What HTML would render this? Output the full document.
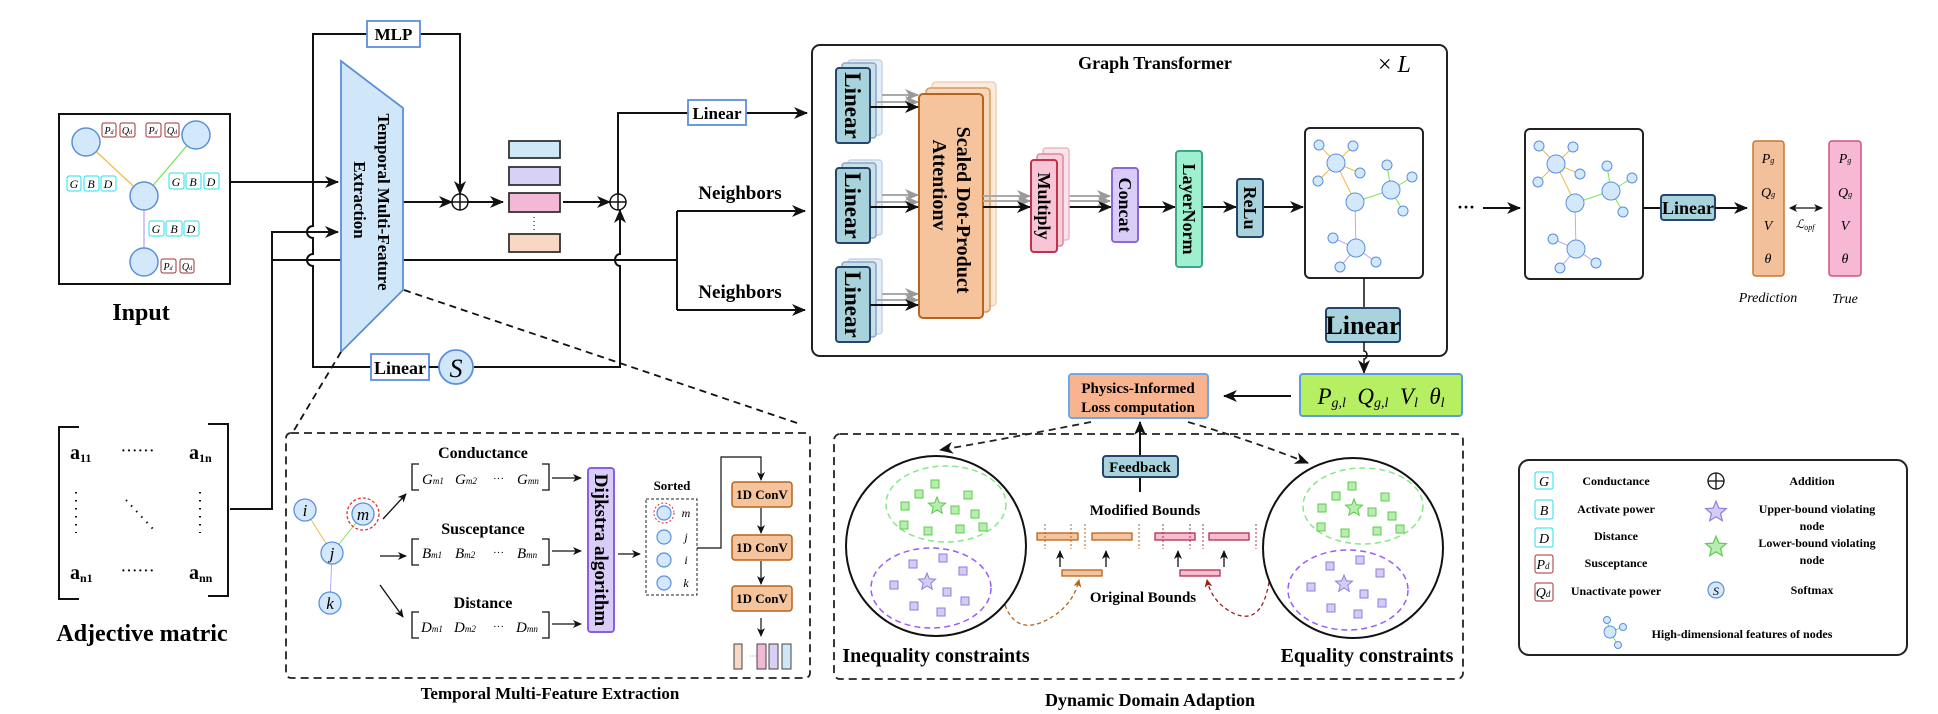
<!DOCTYPE html>
<html><head><meta charset="utf-8"><style>
html,body{margin:0;padding:0;background:#fff}
svg{display:block}
text{font-family:"Liberation Serif",serif}
.b{font-weight:bold}
.i{font-style:italic}
</style></head><body>
<svg width="1938" height="714" viewBox="0 0 1938 714" xmlns="http://www.w3.org/2000/svg">
<defs>
<marker id="a" markerUnits="userSpaceOnUse" markerWidth="14" markerHeight="12" refX="13" refY="6" orient="auto"><path d="M0,0 L14,6 L0,12 L4,6z" fill="#111"/></marker>
<marker id="s" markerUnits="userSpaceOnUse" markerWidth="9" markerHeight="8" refX="8" refY="4" orient="auto"><path d="M0,0 L9,4 L0,8 L2.5,4z" fill="#111"/></marker>
<marker id="g" markerUnits="userSpaceOnUse" markerWidth="14" markerHeight="12" refX="13" refY="6" orient="auto"><path d="M0,0 L14,6 L0,12 L4,6z" fill="#999"/></marker>
<marker id="sb" markerUnits="userSpaceOnUse" markerWidth="8" markerHeight="8" refX="7" refY="4" orient="auto"><path d="M0,0 L8,4 L0,8 L2,4z" fill="#b5651d"/></marker>
<marker id="sr" markerUnits="userSpaceOnUse" markerWidth="8" markerHeight="8" refX="7" refY="4" orient="auto"><path d="M0,0 L8,4 L0,8 L2,4z" fill="#a02020"/></marker>
<marker id="d2" markerUnits="userSpaceOnUse" markerWidth="8" markerHeight="8" refX="1" refY="4" orient="auto"><path d="M8,0 L0,4 L8,8 L6,4z" fill="#111"/></marker>
<polygon id="star" points="0,-9 2.35,-3.24 8.56,-2.78 3.8,1.24 5.29,7.28 0,4 -5.29,7.28 -3.8,1.24 -8.56,-2.78 -2.35,-3.24"/>
<rect id="gsq" x="-4" y="-4" width="8" height="8" fill="#b9ecb0" stroke="#5ccc4c" stroke-width="1"/>
<rect id="psq" x="-4" y="-4" width="8" height="8" fill="#d4ccf5" stroke="#8f7de0" stroke-width="1"/>
</defs>

<!-- ============ INPUT ============ -->
<rect x="59" y="114" width="171" height="170" fill="#fff" stroke="#111" stroke-width="2"/>
<g stroke-width="1.3">
<line x1="86" y1="142" x2="144" y2="196" stroke="#f5b942"/>
<line x1="196" y1="135" x2="144" y2="196" stroke="#7ae35a"/>
<line x1="144" y1="196" x2="144" y2="262" stroke="#b9a8f0"/>
</g>
<g fill="#d3e9fb" stroke="#5b8fdc" stroke-width="1.5">
<circle cx="86" cy="142" r="14"/><circle cx="196" cy="135" r="14"/><circle cx="144" cy="196" r="14"/><circle cx="144" cy="262" r="14"/>
</g>
<g fill="#fff" stroke="#a03030" stroke-width="1">
<rect x="102" y="123" width="14" height="14" rx="2"/><rect x="120" y="123" width="15" height="14" rx="2"/>
<rect x="146" y="123" width="15" height="14" rx="2"/><rect x="165" y="123" width="14" height="14" rx="2"/>
<rect x="161" y="259" width="15" height="14" rx="2"/><rect x="180" y="259" width="14" height="14" rx="2"/>
</g>
<g font-size="10" class="i" text-anchor="middle">
<text x="109" y="134">P<tspan font-size="6">d</tspan></text><text x="127" y="134">Q<tspan font-size="6">d</tspan></text>
<text x="153" y="134">P<tspan font-size="6">d</tspan></text><text x="172" y="134">Q<tspan font-size="6">d</tspan></text>
<text x="168" y="270">P<tspan font-size="6">d</tspan></text><text x="187" y="270">Q<tspan font-size="6">d</tspan></text>
</g>
<g fill="#fff" stroke="#22e0ee" stroke-width="1">
<rect x="67" y="176" width="14" height="15" rx="2"/><rect x="84" y="176" width="15" height="15" rx="2"/><rect x="101" y="176" width="15" height="15" rx="2"/>
<rect x="169" y="173" width="15" height="16" rx="2"/><rect x="186" y="173" width="15" height="16" rx="2"/><rect x="204" y="173" width="15" height="16" rx="2"/>
<rect x="149" y="221" width="15" height="15" rx="2"/><rect x="166" y="221" width="16" height="15" rx="2"/><rect x="184" y="221" width="15" height="15" rx="2"/>
</g>
<g font-size="12" class="i" text-anchor="middle">
<text x="74" y="188">G</text><text x="91" y="188">B</text><text x="108" y="188">D</text>
<text x="176" y="186">G</text><text x="193" y="186">B</text><text x="211" y="186">D</text>
<text x="156" y="233">G</text><text x="174" y="233">B</text><text x="191" y="233">D</text>
</g>
<text x="141" y="320" font-size="24" class="b" text-anchor="middle">Input</text>

<!-- ============ MATRIX ============ -->
<path d="M79,427 H59 V599 H79" fill="none" stroke="#111" stroke-width="2"/>
<path d="M208,424 H228 V596 H208" fill="none" stroke="#111" stroke-width="2"/>
<g class="b" font-size="20">
<text x="70" y="459">a<tspan font-size="12" dy="3">11</tspan></text>
<text x="189" y="459">a<tspan font-size="12" dy="3">1n</tspan></text>
<text x="70" y="579">a<tspan font-size="12" dy="3">n1</tspan></text>
<text x="189" y="579">a<tspan font-size="12" dy="3">nn</tspan></text>
</g>
<g fill="#111">
<text x="121" y="455" font-size="14" class="b" letter-spacing="1">······</text>
<text x="121" y="575" font-size="14" class="b" letter-spacing="1">······</text>
</g>
<line x1="76" y1="492" x2="76" y2="533" stroke="#111" stroke-width="2" stroke-dasharray="1.5,6.5"/>
<line x1="200" y1="492" x2="200" y2="533" stroke="#111" stroke-width="2" stroke-dasharray="1.5,6.5"/>
<line x1="126" y1="500" x2="154" y2="530" stroke="#111" stroke-width="2" stroke-dasharray="1.5,6"/>
<text x="142" y="641" font-size="24" class="b" text-anchor="middle">Adjective matric</text>

<!-- ============ WIRES LEFT ============ -->
<g fill="none" stroke="#111" stroke-width="2">
<line x1="230" y1="182" x2="338" y2="182" marker-end="url(#a)"/>
<path d="M230,509 H272 V232 H338" marker-end="url(#a)"/>
<path d="M272,260 H677"/>
<path d="M677,211 V310"/>
<path d="M677,211 H805" marker-end="url(#a)"/>
<path d="M677,310 H805" marker-end="url(#a)"/>
<!-- left loop with hops -->
<path d="M367,34 H313 V226 a6,6 0 0 0 0,12 V254 a6,6 0 0 0 0,12 V367 H371"/>
<path d="M420,34 H460 V194" marker-end="url(#a)"/>
<path d="M474,367 H620 V266 a5,6 0 0 1 0,-12 V210" marker-end="url(#a)"/>
<line x1="403" y1="202" x2="452" y2="202" marker-end="url(#a)"/>
<line x1="468" y1="202" x2="503" y2="202" marker-end="url(#a)"/>
<line x1="563" y1="202" x2="610" y2="202" marker-end="url(#a)"/>
<path d="M618,194 V113 H688"/>
<line x1="746" y1="113" x2="807" y2="113" marker-end="url(#a)"/>
</g>
<!-- MLP -->
<rect x="367" y="21" width="53" height="26" fill="#fff" stroke="#5b8fdc" stroke-width="1.8"/>
<text x="393.5" y="40" font-size="17" class="b" text-anchor="middle">MLP</text>
<!-- trapezoid -->
<polygon points="341,61 403,108 403,290 341,352" fill="#d0e7fa" stroke="#5b8fdc" stroke-width="1.8"/>
<text transform="translate(378,202) rotate(90)" font-size="17" class="b" text-anchor="middle">Temporal Multi-Feature</text>
<text transform="translate(354,200) rotate(90)" font-size="17" class="b" text-anchor="middle">Extraction</text>
<!-- plus circles -->
<g fill="#fff" stroke="#111" stroke-width="1.5">
<circle cx="460" cy="202" r="8"/><line x1="452" y1="202" x2="468" y2="202"/><line x1="460" y1="194" x2="460" y2="210"/>
<circle cx="618" cy="202" r="8"/><line x1="610" y1="202" x2="626" y2="202"/><line x1="618" y1="194" x2="618" y2="210"/>
</g>
<!-- feature rects -->
<g stroke="#333" stroke-width="1.8">
<rect x="509" y="141" width="51" height="17" fill="#cfe8f7"/>
<rect x="509" y="167" width="51" height="18" fill="#d8d0f5"/>
<rect x="509" y="193" width="51" height="19" fill="#f2b8d6"/>
<rect x="509" y="234" width="51" height="18" fill="#f8d8c4"/>
</g>
<line x1="534" y1="217" x2="534" y2="230" stroke="#333" stroke-width="1.2" stroke-dasharray="1,3"/>
<!-- linear S loop -->
<rect x="371" y="354" width="58" height="26" fill="#fff" stroke="#5b8fdc" stroke-width="1.8"/>
<text x="400" y="374" font-size="18" class="b" text-anchor="middle">Linear</text>
<line x1="429" y1="367" x2="439" y2="367" stroke="#111" stroke-width="2"/>
<circle cx="456" cy="367" r="17" fill="#d0e7fa" stroke="#5b8fdc" stroke-width="1.8"/>
<text x="456" y="377" font-size="26" class="i" text-anchor="middle">S</text>
<!-- Linear to GT -->
<rect x="688" y="100" width="58" height="25" fill="#fff" stroke="#5b8fdc" stroke-width="1.8"/>
<text x="717" y="119" font-size="17" class="b" text-anchor="middle">Linear</text>
<text x="740" y="199" font-size="19" class="b" text-anchor="middle">Neighbors</text>
<text x="740" y="298" font-size="19" class="b" text-anchor="middle">Neighbors</text>

<!-- dashed zoom lines -->
<g stroke="#111" stroke-width="1.8" stroke-dasharray="7,5" fill="none">
<line x1="341" y1="352" x2="293" y2="432"/>
<line x1="404" y1="290" x2="797" y2="423"/>
</g>

<!-- ============ GRAPH TRANSFORMER ============ -->
<rect x="812" y="45" width="635" height="311" rx="8" fill="none" stroke="#222" stroke-width="2"/>
<text x="1155" y="69" font-size="18" class="b" text-anchor="middle">Graph Transformer</text>
<text x="1378" y="72" font-size="24">× <tspan class="i">L</tspan></text>

<!-- Linear stacks -->
<g id="lin">
<rect x="848" y="60" width="34" height="75" rx="3" fill="#e3eef4" stroke="#c5d4e6" stroke-width="1.5"/>
<rect x="842" y="63" width="34" height="75" rx="3" fill="#c8e0e8" stroke="#8aa6c8" stroke-width="1.5"/>
<rect x="836" y="68" width="34" height="75" rx="3" fill="#a9d3dc" stroke="#24466e" stroke-width="2"/>
<text transform="translate(845,105.5) rotate(90)" font-size="23" class="b" text-anchor="middle">Linear</text>
</g>
<use href="#lin" y="100"/>
<use href="#lin" y="199"/>
<!-- attention -->
<rect x="932" y="82" width="64" height="224" rx="4" fill="#fbeadc" stroke="#efd0b5" stroke-width="1.5"/>
<rect x="926" y="88" width="64" height="224" rx="4" fill="#f7d6bb" stroke="#d69a60" stroke-width="1.5"/>
<rect x="919" y="94" width="64" height="224" rx="4" fill="#f5c49c" stroke="#b5651d" stroke-width="2"/>
<text transform="translate(957,210) rotate(90)" font-size="20" class="b" text-anchor="middle">Scaled Dot-Product</text>
<text transform="translate(933,185) rotate(90)" font-size="20" class="b" text-anchor="middle">Attentionv</text>
<!-- arrows linear -> attention -->
<g fill="none" stroke-width="2">
<g stroke="#aaa"><line x1="882" y1="95" x2="918" y2="95" marker-end="url(#g)"/><line x1="876" y1="102" x2="918" y2="102" marker-end="url(#g)"/>
<line x1="882" y1="195" x2="918" y2="195" marker-end="url(#g)"/><line x1="876" y1="202" x2="918" y2="202" marker-end="url(#g)"/>
<line x1="882" y1="294" x2="918" y2="294" marker-end="url(#g)"/><line x1="876" y1="300" x2="918" y2="300" marker-end="url(#g)"/>
<line x1="983" y1="196" x2="1030" y2="196" marker-end="url(#g)"/><line x1="983" y1="201" x2="1030" y2="201" marker-end="url(#g)"/>
<line x1="1069" y1="196" x2="1110" y2="196" marker-end="url(#g)"/><line x1="1063" y1="201" x2="1110" y2="201" marker-end="url(#g)"/>
</g>
<g stroke="#111">
<line x1="870" y1="107" x2="918" y2="107" marker-end="url(#a)"/>
<line x1="870" y1="207" x2="918" y2="207" marker-end="url(#a)"/>
<line x1="870" y1="305" x2="918" y2="305" marker-end="url(#a)"/>
<line x1="983" y1="207" x2="1030" y2="207" marker-end="url(#a)"/>
<line x1="1057" y1="207" x2="1111" y2="207" marker-end="url(#a)"/>
<line x1="1138" y1="207" x2="1175" y2="207" marker-end="url(#a)"/>
<line x1="1202" y1="207" x2="1236" y2="207" marker-end="url(#a)"/>
<line x1="1263" y1="207" x2="1303" y2="207" marker-end="url(#a)"/>
</g>
</g>
<!-- multiply -->
<rect x="1043" y="148" width="26" height="92" rx="3" fill="#fbe3ea" stroke="#eab8c4" stroke-width="1.5"/>
<rect x="1037" y="154" width="26" height="92" rx="3" fill="#f7d0dc" stroke="#d88a9c" stroke-width="1.5"/>
<rect x="1031" y="160" width="26" height="92" rx="3" fill="#f7c5d6" stroke="#c0334d" stroke-width="2"/>
<text transform="translate(1038,206) rotate(90)" font-size="18" class="b" text-anchor="middle">Multiply</text>
<!-- concat -->
<rect x="1112" y="168" width="26" height="74" rx="3" fill="#d9cdf7" stroke="#8a6ad8" stroke-width="2"/>
<text transform="translate(1119,205) rotate(90)" font-size="18" class="b" text-anchor="middle">Concat</text>
<!-- layernorm -->
<rect x="1176" y="151" width="26" height="116" rx="3" fill="#9ff0cf" stroke="#3aa787" stroke-width="2"/>
<text transform="translate(1183,209) rotate(90)" font-size="18" class="b" text-anchor="middle">LayerNorm</text>
<!-- relu -->
<rect x="1237" y="179" width="26" height="58" rx="3" fill="#a9d3dc" stroke="#24466e" stroke-width="2"/>
<text transform="translate(1244,208) rotate(90)" font-size="18" class="b" text-anchor="middle">ReLu</text>
<!-- graph box -->
<rect x="1305" y="128" width="118" height="150" rx="5" fill="#fff" stroke="#222" stroke-width="2"/>
<g id="gr" stroke-width="1">
<g stroke="#f5b942"><line x1="1336" y1="163" x2="1319" y2="145"/><line x1="1336" y1="163" x2="1353" y2="146"/><line x1="1336" y1="163" x2="1318" y2="181"/><line x1="1336" y1="163" x2="1360" y2="173"/><line x1="1336" y1="163" x2="1355" y2="202"/></g>
<g stroke="#7ae35a"><line x1="1355" y1="202" x2="1391" y2="190"/><line x1="1391" y1="190" x2="1387" y2="165"/><line x1="1391" y1="190" x2="1412" y2="177"/><line x1="1391" y1="190" x2="1403" y2="211"/></g>
<g stroke="#b9a8f0"><line x1="1355" y1="202" x2="1356" y2="248"/><line x1="1356" y1="248" x2="1333" y2="238"/><line x1="1356" y1="248" x2="1376" y2="262"/><line x1="1356" y1="248" x2="1340" y2="267"/></g>
<g fill="#d3e9fb" stroke="#5b8fdc">
<circle cx="1319" cy="145" r="5"/><circle cx="1353" cy="146" r="5"/><circle cx="1318" cy="181" r="5"/><circle cx="1360" cy="173" r="5"/>
<circle cx="1336" cy="163" r="9"/><circle cx="1355" cy="202" r="9"/><circle cx="1391" cy="190" r="9"/>
<circle cx="1387" cy="165" r="5"/><circle cx="1412" cy="177" r="5"/><circle cx="1403" cy="211" r="5"/>
<circle cx="1356" cy="248" r="9"/><circle cx="1333" cy="238" r="5"/><circle cx="1376" cy="262" r="5"/><circle cx="1340" cy="267" r="5"/>
</g>
</g>
<path d="M1364,278 V308" stroke="#111" stroke-width="1.5"/>
<rect x="1326" y="308" width="74" height="34" rx="3" fill="#a9d3dc" stroke="#24466e" stroke-width="2"/>
<text x="1363" y="334" font-size="26" class="b" text-anchor="middle">Linear</text>
<path d="M1364,342 V351 a3,4 0 0 1 0,8 V373" stroke="#111" stroke-width="1.5" fill="none" marker-end="url(#a)"/>

<!-- ============ RIGHT OUTPUT ============ -->
<text x="1466" y="213" font-size="18" class="b" text-anchor="middle">···</text>
<line x1="1483" y1="208" x2="1520" y2="208" stroke="#111" stroke-width="2" marker-end="url(#a)"/>
<rect x="1525" y="129" width="118" height="150" rx="5" fill="#fff" stroke="#222" stroke-width="2"/>
<use href="#gr" x="220" y="1"/>
<line x1="1643" y1="208" x2="1661" y2="208" stroke="#111" stroke-width="2"/>
<rect x="1661" y="195" width="54" height="25" rx="3" fill="#a9d3dc" stroke="#24466e" stroke-width="2"/>
<text x="1688" y="214" font-size="18" class="b" text-anchor="middle">Linear</text>
<line x1="1715" y1="208" x2="1747" y2="208" stroke="#111" stroke-width="2" marker-end="url(#a)"/>
<rect x="1753" y="141" width="31" height="135" rx="3" fill="#f2c09a" stroke="#c8782a" stroke-width="1.5"/>
<rect x="1829" y="141" width="32" height="135" rx="3" fill="#f7b8d6" stroke="#d05080" stroke-width="1.5"/>
<g class="i" font-size="14" text-anchor="middle">
<text x="1768" y="163">P<tspan font-size="8">g</tspan></text><text x="1768" y="197">Q<tspan font-size="8">g</tspan></text><text x="1768" y="230">V</text><text x="1768" y="263">θ</text>
<text x="1845" y="163">P<tspan font-size="8">g</tspan></text><text x="1845" y="197">Q<tspan font-size="8">g</tspan></text><text x="1845" y="230">V</text><text x="1845" y="263">θ</text>
</g>
<line x1="1790" y1="208" x2="1822" y2="208" stroke="#111" stroke-width="1.3" marker-start="url(#d2)" marker-end="url(#s)"/>
<text x="1805" y="228" font-size="12" class="i" text-anchor="middle">ℒ<tspan font-size="8" dy="2">opf</tspan></text>
<text x="1768" y="302" font-size="14" class="i" text-anchor="middle">Prediction</text>
<text x="1845" y="303" font-size="14" class="i" text-anchor="middle">True</text>

<!-- ============ PHYSICS ============ -->
<rect x="1300" y="374" width="162" height="42" rx="3" fill="#b6f062" stroke="#5b9be0" stroke-width="2"/>
<text x="1381" y="404" font-size="23" class="i" text-anchor="middle" xml:space="preserve">P<tspan font-size="14" dy="3">g,l</tspan><tspan dy="-3">  Q</tspan><tspan font-size="14" dy="3">g,l</tspan><tspan dy="-3">  V</tspan><tspan font-size="14" dy="3">l</tspan><tspan dy="-3">  θ</tspan><tspan font-size="14" dy="3">l</tspan></text>
<line x1="1291" y1="396" x2="1224" y2="396" stroke="#111" stroke-width="2" marker-end="url(#a)"/>
<rect x="1069" y="374" width="139" height="44" rx="3" fill="#f9b38f" stroke="#6fa8e8" stroke-width="2"/>
<text x="1138" y="393" font-size="15" class="b" text-anchor="middle">Physics-Informed</text>
<text x="1138" y="412" font-size="15" class="b" text-anchor="middle">Loss computation</text>

<!-- ============ DDA ============ -->
<rect x="834" y="434" width="629" height="245" rx="6" fill="none" stroke="#222" stroke-width="1.8" stroke-dasharray="8,5"/>
<text x="1150" y="706" font-size="18" class="b" text-anchor="middle">Dynamic Domain Adaption</text>
<g fill="none" stroke="#222" stroke-width="1.8" stroke-dasharray="7,5">
<path d="M1091,422 Q1010,438 940,450" marker-end="url(#a)"/>
<path d="M1188,422 Q1250,440 1308,463" marker-end="url(#a)"/>
</g>
<line x1="1140" y1="456" x2="1140" y2="422" stroke="#111" stroke-width="2" marker-end="url(#a)"/>
<line x1="1140" y1="477" x2="1140" y2="492" stroke="#111" stroke-width="2"/>
<rect x="1103" y="456" width="75" height="21" rx="3" fill="#a9d3dc" stroke="#24466e" stroke-width="2"/>
<text x="1140" y="472" font-size="15" class="b" text-anchor="middle">Feedback</text>
<text x="1145" y="515" font-size="15" class="b" text-anchor="middle">Modified Bounds</text>
<text x="1143" y="602" font-size="15" class="b" text-anchor="middle">Original Bounds</text>
<g stroke-width="1.3">
<rect x="1037" y="533" width="41" height="7" fill="#f5c49c" stroke="#b5651d"/><rect x="1092" y="533" width="40" height="7" fill="#f5c49c" stroke="#b5651d"/>
<rect x="1155" y="533" width="40" height="7" fill="#f7bcd0" stroke="#b0304a"/><rect x="1209" y="533" width="40" height="7" fill="#f7bcd0" stroke="#b0304a"/>
<rect x="1062" y="570" width="40" height="6" fill="#f5c49c" stroke="#b5651d"/><rect x="1180" y="570" width="40" height="6" fill="#f7bcd0" stroke="#b0304a"/>
</g>
<g stroke-width="1" stroke-dasharray="2,2">
<g stroke="#b5651d"><line x1="1045" y1="524" x2="1045" y2="549"/><line x1="1071" y1="524" x2="1071" y2="549"/><line x1="1085" y1="524" x2="1085" y2="549"/><line x1="1139" y1="524" x2="1139" y2="549"/></g>
<g stroke="#b0304a"><line x1="1163" y1="524" x2="1163" y2="549"/><line x1="1190" y1="524" x2="1190" y2="549"/><line x1="1203" y1="524" x2="1203" y2="549"/><line x1="1256" y1="524" x2="1256" y2="549"/></g>
</g>
<g stroke="#111" stroke-width="1.3">
<line x1="1060" y1="567" x2="1060" y2="551" marker-end="url(#s)"/><line x1="1106" y1="567" x2="1106" y2="551" marker-end="url(#s)"/>
<line x1="1178" y1="567" x2="1178" y2="551" marker-end="url(#s)"/><line x1="1224" y1="567" x2="1224" y2="551" marker-end="url(#s)"/>
</g>
<path d="M1005,605 Q1015,632 1040,623 Q1072,610 1079,580" fill="none" stroke="#b5651d" stroke-width="1.3" stroke-dasharray="4,3" marker-end="url(#sb)"/>
<path d="M1269,582 Q1262,625 1235,614 Q1212,603 1207,580" fill="none" stroke="#a02020" stroke-width="1.3" stroke-dasharray="4,3" marker-end="url(#sr)"/>
<!-- left circle -->
<g id="cl">
<ellipse cx="936" cy="546" rx="90" ry="90" fill="#fff" stroke="#111" stroke-width="2"/>
<ellipse cx="946" cy="504" rx="60" ry="38" fill="none" stroke="#86e88a" stroke-width="1.5" stroke-dasharray="6,4"/>
<ellipse cx="931" cy="588" rx="60" ry="40" fill="none" stroke="#9b5cf5" stroke-width="1.5" stroke-dasharray="6,4"/>
<use href="#gsq" x="935" y="484"/><use href="#gsq" x="919" y="494"/><use href="#gsq" x="968" y="495"/><use href="#gsq" x="905" y="506"/><use href="#gsq" x="955" y="510"/><use href="#gsq" x="975" y="514"/><use href="#gsq" x="904" y="525"/><use href="#gsq" x="928" y="531"/><use href="#gsq" x="960" y="529"/><use href="#gsq" x="983" y="527"/>
<use href="#star" x="937" y="506" fill="#b9ecb0" stroke="#5ccc4c"/>
<use href="#psq" x="913" y="564"/><use href="#psq" x="943" y="558"/><use href="#psq" x="963" y="571"/><use href="#psq" x="894" y="585"/><use href="#psq" x="947" y="592"/><use href="#psq" x="965" y="601"/><use href="#psq" x="914" y="606"/><use href="#psq" x="941" y="612"/>
<use href="#star" x="927" y="582" fill="#d4ccf5" stroke="#8f7de0"/>
</g>
<use href="#cl" x="417" y="2"/>
<text x="936" y="662" font-size="20" class="b" text-anchor="middle">Inequality constraints</text>
<text x="1367" y="662" font-size="20" class="b" text-anchor="middle">Equality constraints</text>

<!-- ============ TMFE BOX ============ -->
<rect x="286" y="433" width="524" height="245" rx="5" fill="none" stroke="#222" stroke-width="1.8" stroke-dasharray="8,5"/>
<text x="550" y="699" font-size="17" class="b" text-anchor="middle">Temporal Multi-Feature Extraction</text>
<g stroke-width="1">
<line x1="305" y1="510" x2="332" y2="553" stroke="#f5b942"/>
<line x1="363" y1="514" x2="332" y2="553" stroke="#7ae35a"/>
<line x1="332" y1="553" x2="330" y2="603" stroke="#b9a8f0"/>
</g>
<g fill="#d3e9fb" stroke="#5b8fdc" stroke-width="1.3">
<circle cx="305" cy="510" r="11"/><circle cx="363" cy="514" r="11"/><circle cx="332" cy="553" r="11"/><circle cx="330" cy="603" r="11"/>
</g>
<circle cx="363" cy="514" r="16" fill="none" stroke="#e83030" stroke-width="1.3" stroke-dasharray="3,2"/>
<g class="i" font-size="17" text-anchor="middle">
<text x="305" y="516">i</text><text x="363" y="520">m</text><text x="332" y="559">j</text><text x="330" y="609">k</text>
</g>
<g stroke="#111" stroke-width="1.3">
<line x1="383" y1="519" x2="406" y2="494" marker-end="url(#s)"/>
<line x1="380" y1="556" x2="406" y2="556" marker-end="url(#s)"/>
<line x1="380" y1="585" x2="403" y2="617" marker-end="url(#s)"/>
<line x1="552" y1="478" x2="581" y2="478" marker-end="url(#s)"/>
<line x1="552" y1="551" x2="581" y2="551" marker-end="url(#s)"/>
<line x1="552" y1="624" x2="581" y2="624" marker-end="url(#s)"/>
<line x1="618" y1="554" x2="640" y2="554" marker-end="url(#s)"/>
</g>
<g class="b" font-size="16" text-anchor="middle">
<text x="483" y="458">Conductance</text><text x="483" y="534">Susceptance</text><text x="483" y="608">Distance</text>
</g>
<g fill="none" stroke="#111" stroke-width="1.3">
<path d="M419,464 H412 V490 H419"/><path d="M542,464 H549 V490 H542"/>
<path d="M419,539 H412 V565 H419"/><path d="M542,539 H549 V565 H542"/>
<path d="M419,612 H412 V638 H419"/><path d="M542,612 H549 V638 H542"/>
</g>
<g class="i" font-size="15">
<text x="422" y="484">G<tspan font-size="9">m1</tspan></text><text x="455" y="484">G<tspan font-size="9">m2</tspan></text><text x="493" y="482" font-style="normal" font-size="11">···</text><text x="517" y="484">G<tspan font-size="9">mn</tspan></text>
<text x="422" y="558">B<tspan font-size="9">m1</tspan></text><text x="455" y="558">B<tspan font-size="9">m2</tspan></text><text x="493" y="556" font-style="normal" font-size="11">···</text><text x="517" y="558">B<tspan font-size="9">mn</tspan></text>
<text x="421" y="632">D<tspan font-size="9">m1</tspan></text><text x="454" y="632">D<tspan font-size="9">m2</tspan></text><text x="493" y="630" font-style="normal" font-size="11">···</text><text x="516" y="632">D<tspan font-size="9">mn</tspan></text>
</g>
<rect x="588" y="468" width="26" height="164" rx="3" fill="#d9cdf7" stroke="#8a60e0" stroke-width="2"/>
<text transform="translate(595,550) rotate(90)" font-size="19" class="b" text-anchor="middle">Dijkstra algorithm</text>
<text x="672" y="490" font-size="13" class="b" text-anchor="middle">Sorted</text>
<rect x="646" y="499" width="51" height="96" fill="none" stroke="#222" stroke-width="1" stroke-dasharray="3,2"/>
<g fill="#d3e9fb" stroke="#5b8fdc" stroke-width="1.2">
<circle cx="664" cy="513" r="7"/><circle cx="664" cy="537" r="7"/><circle cx="664" cy="560" r="7"/><circle cx="664" cy="583" r="7"/>
</g>
<circle cx="664" cy="513" r="10" fill="none" stroke="#e83030" stroke-width="1" stroke-dasharray="2,2"/>
<g class="i" font-size="12" text-anchor="middle">
<text x="686" y="517">m</text><text x="686" y="541">j</text><text x="686" y="564">i</text><text x="686" y="587">k</text>
</g>
<path d="M697,548 H721 V457 H761 V480" fill="none" stroke="#111" stroke-width="1.2" marker-end="url(#s)"/>
<g fill="#f5c49c" stroke="#b5651d" stroke-width="1.5">
<rect x="732" y="482" width="60" height="25" rx="3"/><rect x="732" y="535" width="60" height="25" rx="3"/><rect x="732" y="586" width="60" height="25" rx="3"/>
</g>
<g class="b" font-size="13" text-anchor="middle">
<text x="762" y="499">1D ConV</text><text x="762" y="552">1D ConV</text><text x="762" y="603">1D ConV</text>
</g>
<g stroke="#111" stroke-width="1.2">
<line x1="761" y1="508" x2="761" y2="533" marker-end="url(#s)"/>
<line x1="761" y1="561" x2="761" y2="584" marker-end="url(#s)"/>
<line x1="761" y1="618" x2="761" y2="636" marker-end="url(#s)"/>
</g>
<g stroke="#444" stroke-width="1">
<rect x="734" y="644" width="8" height="25" fill="#f8d8c4"/><rect x="757" y="644" width="9" height="25" fill="#f2b8d6"/><rect x="769" y="644" width="9" height="25" fill="#d8d0f5"/><rect x="782" y="644" width="9" height="25" fill="#cfe8f7"/>
</g>
<text x="749" y="659" font-size="8" fill="#777">···</text>

<!-- ============ LEGEND ============ -->
<rect x="1519" y="460" width="388" height="195" rx="10" fill="#fff" stroke="#222" stroke-width="2"/>
<g stroke-width="1" fill="#fff">
<rect x="1535" y="472" width="18" height="17" rx="2" stroke="#22e0ee"/>
<rect x="1535" y="500" width="18" height="19" rx="2" stroke="#22e0ee"/>
<rect x="1535" y="528" width="18" height="19" rx="2" stroke="#22e0ee"/>
<rect x="1535" y="555" width="18" height="18" rx="2" stroke="#a03030"/>
<rect x="1535" y="583" width="18" height="18" rx="2" stroke="#a03030"/>
</g>
<g class="i" font-size="14" text-anchor="middle">
<text x="1544" y="486">G</text><text x="1544" y="515">B</text><text x="1544" y="543">D</text>
<text x="1543" y="569">P<tspan font-size="9">d</tspan></text><text x="1543" y="597">Q<tspan font-size="9">d</tspan></text>
</g>
<g class="b" font-size="12" text-anchor="middle">
<text x="1616" y="485">Conductance</text><text x="1616" y="513">Activate power</text><text x="1616" y="540">Distance</text><text x="1616" y="567">Susceptance</text><text x="1616" y="595">Unactivate power</text>
<text x="1812" y="485">Addition</text>
<text x="1817" y="513">Upper-bound violating</text><text x="1812" y="530">node</text>
<text x="1817" y="547">Lower-bound violating</text><text x="1812" y="564">node</text>
<text x="1812" y="594">Softmax</text>
<text x="1742" y="638">High-dimensional features of nodes</text>
</g>
<g fill="#fff" stroke="#111" stroke-width="1.3">
<circle cx="1716" cy="481" r="8"/><line x1="1708" y1="481" x2="1724" y2="481"/><line x1="1716" y1="473" x2="1716" y2="489"/>
</g>
<use href="#star" x="1716" y="511" fill="#d4ccf5" stroke="#8f7de0" transform="translate(-572,-341) scale(1.5)" style="display:none"/>
<polygon transform="translate(1716,512) scale(1.2)" points="0,-9 2.35,-3.24 8.56,-2.78 3.8,1.24 5.29,7.28 0,4 -5.29,7.28 -3.8,1.24 -8.56,-2.78 -2.35,-3.24" fill="#d4ccf5" stroke="#8f7de0"/>
<polygon transform="translate(1716,547) scale(1.2)" points="0,-9 2.35,-3.24 8.56,-2.78 3.8,1.24 5.29,7.28 0,4 -5.29,7.28 -3.8,1.24 -8.56,-2.78 -2.35,-3.24" fill="#b9ecb0" stroke="#5ccc4c"/>
<circle cx="1716" cy="590" r="8" fill="#d3e9fb" stroke="#5b8fdc" stroke-width="1.2"/>
<text x="1716" y="595" font-size="12" class="i" text-anchor="middle">S</text>
<g stroke="#7ae35a" stroke-width="1"><line x1="1610" y1="632" x2="1607" y2="620"/><line x1="1610" y1="632" x2="1623" y2="627"/><line x1="1610" y1="632" x2="1618" y2="645"/></g>
<g fill="#d3e9fb" stroke="#5b8fdc" stroke-width="1">
<circle cx="1607" cy="620" r="3.5"/><circle cx="1623" cy="627" r="3.5"/><circle cx="1618" cy="645" r="3.5"/><circle cx="1610" cy="632" r="6"/>
</g>
</svg>
</body></html>
